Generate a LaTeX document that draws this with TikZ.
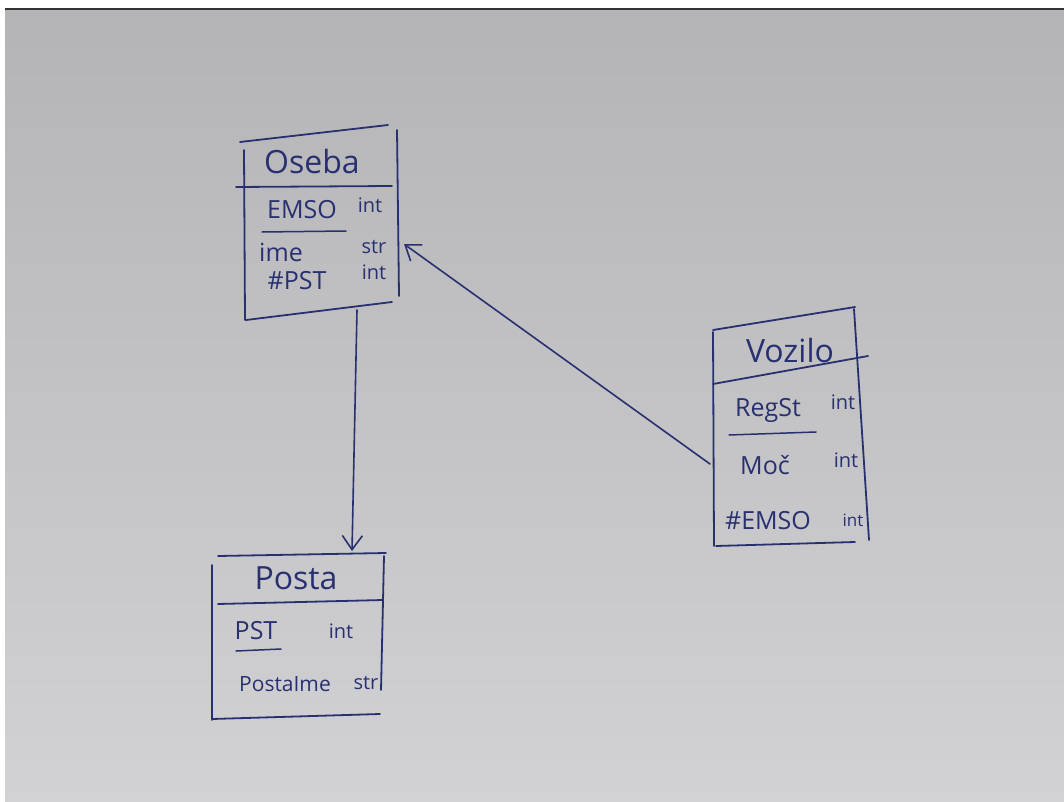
\documentclass[tikz,border=0pt]{standalone}
\usepackage{fontspec}
\setmainfont{Open Sans}
\usetikzlibrary{arrows.meta}
\definecolor{ink}{HTML}{283070}
\definecolor{paperA}{HTML}{B4B4B7}
\definecolor{paperB}{HTML}{D2D2D4}
\begin{document}
\begin{tikzpicture}[x=1pt,y=-1pt,
  pen/.style={draw=ink,line width=1.8pt,line cap=round,line join=round},
  title/.style={text=ink,font=\fontsize{32}{34}\selectfont,inner sep=0pt},
  attr/.style={text=ink,font=\fontsize{25}{27}\selectfont,inner sep=0pt},
  typ/.style={text=ink,font=\fontsize{20}{22}\selectfont,inner sep=0pt},
  conn/.style={pen,line width=1.6pt,-{Straight Barb[length=14pt,width=20pt,line width=1.6pt]}}]
\useasboundingbox (0,0) rectangle (1064,802);
\fill[white] (0,0) rectangle (1064,802);
\shade[top color=paperA,bottom color=paperB] (5,9) rectangle (1064,802);
\fill[black!80] (5,8) rectangle (1064,10);

% ---------- Oseba ----------
\draw[pen] (240,142) -- (388,125);
\draw[pen] (244,150) -- (245,320);
\draw[pen] (397,130) -- (399,296);
\draw[pen] (236,187) -- (392,186);
\draw[pen] (246,320) -- (392,302);
\node[title] (oseba) at (312,162) {Oseba};
\node[attr] (emso) at (302,210) {EMSO};
\draw[pen,line width=1.5pt] (262,232) -- (346,231);
\node[typ] (emsot) at (370,205) {int};
\node[attr] (ime) at (281,252) {ime};
\node[typ] (imet) at (374,247) {str};
\node[attr] (pst) at (297,281) {\#PST};
\node[typ] (pstt) at (374,272) {int};
\coordinate (osebaB) at (357,310);
\coordinate (osebaR) at (404,244);

% ---------- Posta ----------
\draw[pen] (218,556) -- (386,553);
\draw[pen] (212,565) -- (212,720);
\draw[pen] (384,556) -- (381,690);
\draw[pen] (218,604) -- (383,600);
\draw[pen] (212,719) -- (380,714);
\node[title] (posta) at (296,578) {Posta};
\node[attr] (pstk) at (256,631) {PST};
\draw[pen,line width=1.5pt] (236,651) -- (281,649);
\node[typ] (pstkt) at (341,631) {int};
\node[attr,font=\fontsize{21}{23}\selectfont] (pime) at (285,684) {PostaIme};
\node[typ] (pimet) at (366,683) {str};
\coordinate (postaT) at (352,551);

% ---------- Vozilo ----------
\draw[pen] (713,330) -- (855,307);
\draw[pen] (713,332) -- (714,546);
\draw[pen] (854,309) -- (869,540);
\draw[pen] (713,384) -- (868,356);
\draw[pen] (716,546) -- (855,542);
\node[title] (vozilo) at (790,350) {Vozilo};
\node[attr] (regst) at (768,410) {RegSt};
\draw[pen,line width=1.5pt] (729,435) -- (816,432);
\node[typ] (regstt) at (843,402) {int};
\node[attr] (moc) at (765,465) {Moč};
\node[typ] (moct) at (846,460) {int};
\node[attr] (vemso) at (768,521) {\#EMSO};
\node[typ,font=\fontsize{17}{19}\selectfont] (vemsot) at (853,520) {int};
\coordinate (voziloL) at (710,464);

% ---------- connectors ----------
\draw[conn] (osebaB) -- (postaT);
\draw[conn] (voziloL) -- (osebaR);
\end{tikzpicture}
\end{document}
